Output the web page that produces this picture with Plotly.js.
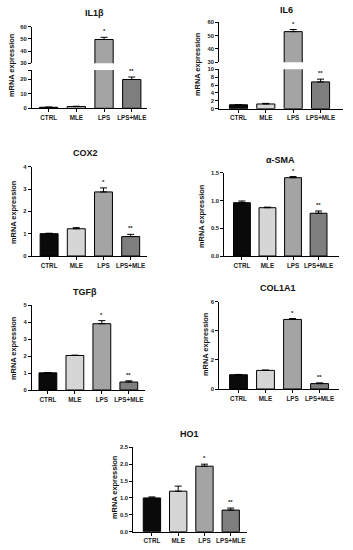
<!DOCTYPE html>
<html>
<head>
<meta charset="utf-8">
<script src="https://cdn.plot.ly/plotly-3.0.1.min.js"></script>
<style>html,body{margin:0;padding:0;background:#fff;}#chart{width:353px;height:550px;}</style>
</head>
<body>
<div id="chart"></div>
<script>
// ---- data ----
const categories = ['CTRL', 'MLE', 'LPS', 'LPS+MLE'];
const sigLabels = ['', '', '*', '**'];
const il1b = [0.7, 1.2, 49.5, 19.7];
const il1bErr = [0.1, 0.2, 1.8, 1.7];
const il6 = [1.0, 1.2, 53.0, 6.8];
const il6Err = [0.05, 0.15, 1.6, 0.7];
const cox2 = [1.0, 1.22, 2.87, 0.87];
const cox2Err = [0.02, 0.05, 0.18, 0.10];
const asma = [0.96, 0.87, 1.41, 0.77];
const asmaErr = [0.03, 0.01, 0.02, 0.04];
const tgfb = [1.01, 2.03, 3.9, 0.47];
const tgfbErr = [0.02, 0.02, 0.18, 0.07];
const col1a1 = [0.98, 1.28, 4.78, 0.37];
const col1a1Err = [0.02, 0.02, 0.06, 0.05];
const ho1 = [1.0, 1.2, 1.94, 0.64];
const ho1Err = [0.03, 0.15, 0.06, 0.06];
const panelTitles = ['IL1β', 'IL6', 'COX2', 'α-SMA', 'TGFβ', 'COL1A1', 'HO1'];
const yTitle = 'mRNA expression';

// ---- styles / geometry ----
const W = 353, H = 550;
const fx = p => p / W;
const fy = p => 1 - p / H;
const barColors = ['#0a0a0a', '#d6d6d6', '#a4a4a4', '#7e7e7e'];
const FONT = 'Liberation Sans, Arial, sans-serif';

const panels = [
  {vals: il1b, errs: il1bErr, xdom: [32, 147], xr: [-0.6, 3.55],
   segs: [{dom: [70, 108.3], range: [0, 26.2], tickvals: [0, 10, 20, 26.2], ticktext: ['0', '10', '20', '']},
          {dom: [26.7, 63.3], range: [30, 60], tickvals: [30, 40, 50, 60]}],
   title: [95, 13], yt: [12, 65]},
  {vals: il6, errs: il6Err, xdom: [219.3, 343], xr: [-0.7, 3.82],
   segs: [{dom: [69.3, 108.7], range: [0, 10], tickvals: [0, 2, 4, 6, 8, 10]},
          {dom: [22.3, 62.3], range: [30, 60], tickvals: [30, 40, 50, 60]}],
   title: [286, 10], yt: [198, 64]},
  {vals: cox2, errs: cox2Err, xdom: [31.7, 147], xr: [-0.64, 3.6],
   segs: [{dom: [166.7, 256], range: [0, 4], tickvals: [0, 1, 2, 3, 4]}],
   title: [85, 153], yt: [13, 212]},
  {vals: asma, errs: asmaErr, xdom: [224.3, 339], xr: [-0.69, 3.8],
   segs: [{dom: [172.7, 256], range: [0, 1.5], tickvals: [0, 0.5, 1.0, 1.5], fmt: '.1f'}],
   title: [280, 160], yt: [201, 216]},
  {vals: tgfb, errs: tgfbErr, xdom: [32, 145], xr: [-0.59, 3.6],
   segs: [{dom: [305, 390], range: [0, 5], tickvals: [0, 1, 2, 3, 4, 5]}],
   title: [85, 292], yt: [13, 348]},
  {vals: col1a1, errs: col1a1Err, xdom: [219.3, 339], xr: [-0.71, 3.72],
   segs: [{dom: [301.7, 389], range: [0, 6], tickvals: [0, 2, 4, 6]}],
   title: [278, 288], yt: [205, 344]},
  {vals: ho1, errs: ho1Err, xdom: [133.3, 247], xr: [-0.71, 3.62],
   segs: [{dom: [447.3, 531.7], range: [0, 2.5], tickvals: [0, 0.5, 1.0, 1.5, 2.0, 2.5], fmt: '.1f'}],
   title: [189, 434], yt: [114, 487]}
];

const traces = [];
const layout = {
  width: W, height: H, margin: {l: 0, r: 0, t: 0, b: 0},
  showlegend: false, paper_bgcolor: '#ffffff', plot_bgcolor: '#ffffff',
  annotations: [], font: {family: FONT}
};

let xc = 0, yc = 0;
const nm = n => (n === 1 ? '' : String(n));
const xIdx = categories.map((c, i) => i);

panels.forEach((p, pi) => {
  xc++;
  const xName = 'x' + nm(xc);
  const firstY = yc + 1;
  layout['xaxis' + nm(xc)] = {
    domain: [fx(p.xdom[0]), fx(p.xdom[1])], range: p.xr, anchor: 'y' + nm(firstY),
    showline: true, linecolor: '#000', linewidth: 1.1, ticks: 'outside', ticklen: 3, tickwidth: 1,
    tickcolor: '#000', tickvals: xIdx, ticktext: categories, showgrid: false, zeroline: false,
    tickfont: {family: FONT, size: 6.3, color: '#1a1a1a', weight: 'bold'}, fixedrange: true
  };
  p.segs.forEach((s, si) => {
    yc++;
    const yName = 'y' + nm(yc);
    const ax = {
      domain: [fy(s.dom[1]), fy(s.dom[0])], range: s.range, anchor: xName,
      showline: true, linecolor: '#000', linewidth: 1.1, ticks: 'outside', ticklen: 3, tickwidth: 1,
      tickcolor: '#000', tickvals: s.tickvals, showgrid: false, zeroline: false,
      tickfont: {family: FONT, size: 5.8, color: '#1a1a1a', weight: 'bold'}, fixedrange: true
    };
    if (s.ticktext) ax.ticktext = s.ticktext;
    if (s.fmt) ax.tickformat = s.fmt;
    layout['yaxis' + nm(yc)] = ax;
    traces.push({
      type: 'bar', x: xIdx, y: p.vals, xaxis: xName, yaxis: yName, width: 0.66,
      marker: {color: barColors, line: {color: '#000', width: 1}},
      error_y: {type: 'data', symmetric: false, array: p.errs, arrayminus: p.errs.map(() => 0),
                color: '#000', thickness: 1, width: 3.5},
      hoverinfo: 'none', cliponaxis: true
    });
    // significance marks, placed on the segment that contains the bar top
    p.vals.forEach((v, i) => {
      if (!sigLabels[i]) return;
      const top = v + p.errs[i];
      if (top >= s.range[0] && top <= s.range[1]) {
        layout.annotations.push({
          x: i, y: top, xref: xName, yref: yName, text: sigLabels[i], showarrow: false,
          yanchor: 'bottom', yshift: 1, font: {family: FONT, size: 6, color: '#222', weight: 'bold'}
        });
      }
    });
  });
  layout.annotations.push({
    x: fx(p.title[0]), y: fy(p.title[1]), xref: 'paper', yref: 'paper', showarrow: false,
    text: panelTitles[pi], xanchor: 'center', yanchor: 'middle',
    font: {family: FONT, size: 9, color: '#111', weight: 'bold'}
  });
  layout.annotations.push({
    x: fx(p.yt[0]), y: fy(p.yt[1]), xref: 'paper', yref: 'paper', showarrow: false,
    text: yTitle, textangle: -90, xanchor: 'center', yanchor: 'middle',
    font: {family: FONT, size: 7.4, color: '#111', weight: 'bold'}
  });
});

Plotly.newPlot('chart', traces, layout, {staticPlot: true, displayModeBar: false});
</script>
</body>
</html>
